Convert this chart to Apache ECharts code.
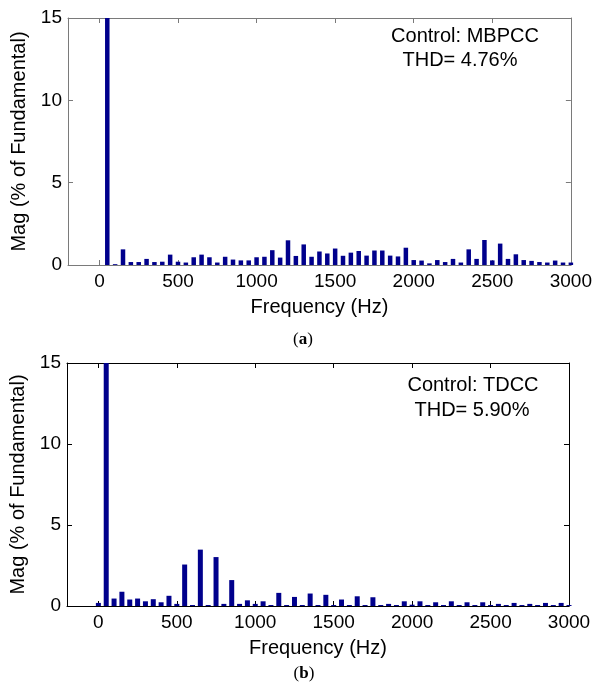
<!DOCTYPE html>
<html>
<head>
<meta charset="utf-8">
<script src="https://cdn.jsdelivr.net/npm/echarts@6/dist/echarts.min.js"></script>
<style>
  html, body { margin: 0; padding: 0; background: #fff; }
  #chart { width: 595px; height: 682px; }
</style>
</head>
<body>
<div id="chart"></div>
<script>
// harmonic frequencies (Hz)
const freqs = [
  0, 50, 100, 150, 200, 250, 300, 350, 400, 450,
  500, 550, 600, 650, 700, 750, 800, 850, 900, 950,
  1000, 1050, 1100, 1150, 1200, 1250, 1300, 1350, 1400, 1450,
  1500, 1550, 1600, 1650, 1700, 1750, 1800, 1850, 1900, 1950,
  2000, 2050, 2100, 2150, 2200, 2250, 2300, 2350, 2400, 2450,
  2500, 2550, 2600, 2650, 2700, 2750, 2800, 2850, 2900, 2950,
  3000
]

// (a) MBPCC magnitudes, % of fundamental
const magMBPCC = [
  0, 100, 0.05, 0.95, 0.18, 0.18, 0.37, 0.18, 0.2, 0.63,
  0.2, 0.15, 0.47, 0.63, 0.47, 0.15, 0.5, 0.33, 0.28, 0.28,
  0.47, 0.5, 0.9, 0.45, 1.5, 0.55, 1.25, 0.5, 0.82, 0.7,
  1.0, 0.56, 0.75, 0.85, 0.57, 0.88, 0.88, 0.57, 0.52, 1.05,
  0.3, 0.27, 0.1, 0.3, 0.18, 0.37, 0.15, 0.95, 0.37, 1.52,
  0.28, 1.3, 0.37, 0.65, 0.3, 0.25, 0.18, 0.15, 0.27, 0.15,
  0.15
]

// (b) TDCC magnitudes, % of fundamental
const magTDCC = [
  0.19, 100, 0.46, 0.88, 0.4, 0.46, 0.29, 0.42, 0.23, 0.63,
  0.13, 2.56, 0.06, 3.48, 0.06, 3.02, 0.13, 1.6, 0.13, 0.35,
  0.13, 0.29, 0.06, 0.81, 0.06, 0.56, 0.06, 0.77, 0.06, 0.69,
  0.06, 0.4, 0.06, 0.6, 0.06, 0.54, 0.06, 0.13, 0.06, 0.29,
  0.08, 0.29, 0.06, 0.23, 0.06, 0.29, 0.06, 0.23, 0.06, 0.23,
  0.06, 0.13, 0.06, 0.19, 0.06, 0.13, 0.06, 0.19, 0.06, 0.19,
  0.06
]

const xTicks = [0, 500, 1000, 1500, 2000, 2500, 3000]

const FONT = 'Liberation Sans'
const BAR = '#00008c'

function axesFor(grid, lineColor) {
  const x = [
    {
      type: 'value', gridIndex: grid, position: 'bottom',
      min: -200, max: 3000,
      name: 'Frequency (Hz)', nameLocation: 'middle', nameGap: 32,
      nameTextStyle: { fontFamily: FONT, fontSize: 20, color: '#000' },
      axisLine: { show: true, onZero: false, lineStyle: { color: lineColor } },
      axisTick: { show: true, inside: true, length: 5, customValues: xTicks, lineStyle: { color: lineColor } },
      axisLabel: {
        customValues: xTicks, margin: 7, fontFamily: FONT, fontSize: 19, color: '#000',
        formatter: (v) => String(v),
      },
      splitLine: { show: false },
    },
    {
      type: 'value', gridIndex: grid, position: 'top',
      min: -200, max: 3000,
      axisLine: { show: true, onZero: false, lineStyle: { color: lineColor } },
      axisTick: { show: true, inside: true, length: 5, customValues: xTicks, lineStyle: { color: lineColor } },
      axisLabel: { show: false },
      splitLine: { show: false },
    },
  ]
  const y = [
    {
      type: 'value', gridIndex: grid, position: 'left',
      min: 0, max: 15, interval: 5,
      name: 'Mag (% of Fundamental)', nameLocation: 'middle', nameGap: 33,
      nameTextStyle: { fontFamily: FONT, fontSize: 20, color: '#000' },
      axisLine: { show: true, onZero: false, lineStyle: { color: lineColor } },
      axisTick: { show: true, inside: true, length: 5, lineStyle: { color: lineColor } },
      axisLabel: { margin: 6, fontFamily: FONT, fontSize: 19, color: '#000' },
      splitLine: { show: false },
    },
    {
      type: 'value', gridIndex: grid, position: 'right',
      min: 0, max: 15, interval: 5,
      axisLine: { show: true, onZero: false, lineStyle: { color: lineColor } },
      axisTick: { show: true, inside: true, length: 5, lineStyle: { color: lineColor } },
      axisLabel: { show: false },
      splitLine: { show: false },
    },
  ]
  return { x, y }
}

const a = axesFor(0, '#7a7a7a')
const b = axesFor(1, '#000')

function label(text, x, y, size) {
  return {
    type: 'text', x, y,
    style: {
      text, fill: '#000', font: size + 'px ' + FONT,
      textAlign: 'center', textVerticalAlign: 'middle',
    },
  }
}

function caption(letter, x, y) {
  return {
    type: 'text', x, y,
    style: {
      text: '({l|' + letter + '})',
      fill: '#000', font: '17px "Liberation Serif"',
      textAlign: 'center', textVerticalAlign: 'middle',
      rich: { l: { fontWeight: 'bold', fontFamily: 'Liberation Serif', fontSize: 17 } },
    },
  }
}

const option = {
  animation: false,
  backgroundColor: '#fff',
  grid: [
    { left: 68, right: 22, top: 18, height: 247 },
    { left: 67, right: 26, top: 363, height: 243 },
  ],
  xAxis: [...a.x, ...b.x],
  yAxis: [...a.y, ...b.y],
  series: [
    {
      type: 'bar', xAxisIndex: 0, yAxisIndex: 0,
      data: freqs.map((f, i) => [f, magMBPCC[i]]),
      barWidth: 4.5, clip: true,
      itemStyle: { color: BAR },
    },
    {
      type: 'bar', xAxisIndex: 2, yAxisIndex: 2,
      data: freqs.map((f, i) => [f, magTDCC[i]]),
      barWidth: 5, clip: true,
      itemStyle: { color: BAR },
    },
  ],
  graphic: [
    label('Control: MBPCC', 465, 36, 20),
    label('THD= 4.76%', 460, 60, 20),
    label('Control: TDCC', 473, 385, 20),
    label('THD= 5.90%', 472, 410, 20),
    caption('a', 303, 340),
    caption('b', 304, 674),
  ],
}

const chart = echarts.init(document.getElementById('chart'))
chart.setOption(option)
</script>
</body>
</html>
